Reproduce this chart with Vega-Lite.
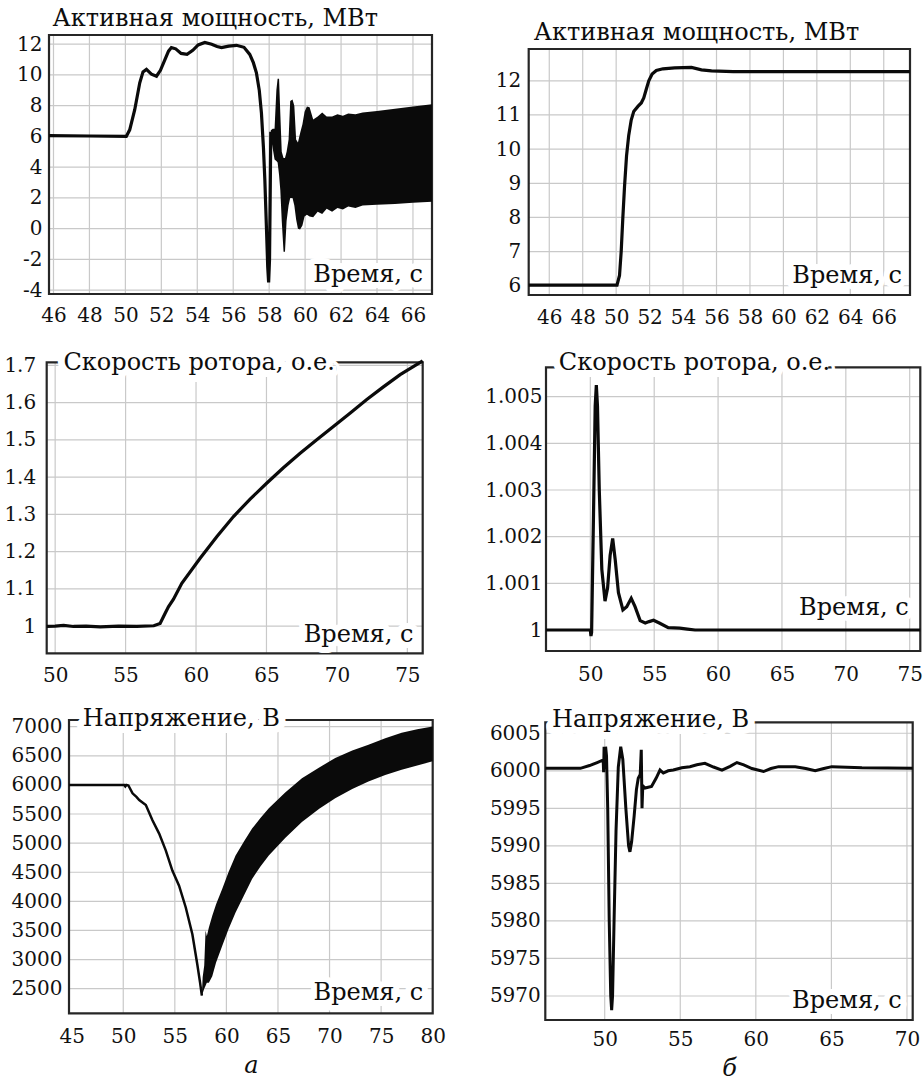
{
  "$schema": "https://vega.github.io/schema/vega-lite/v6.json",
  "width": 924,
  "height": 1081,
  "autosize": {"type": "none"},
  "padding": 0,
  "background": "white",
  "config": {
    "font": "DejaVu Serif",
    "view": {"stroke": null},
    "axis": {
      "grid": false, "ticks": false, "domain": false,
      "labelFont": "DejaVu Serif", "labelFontSize": 20, "labelColor": "#111",
      "labelOverlap": false, "labelFlush": false, "labelBound": false
    },
    "rule": {"color": "#c9c9c9", "strokeWidth": 1.2},
    "text": {"font": "DejaVu Serif", "fontSize": 24, "color": "#0d0d0d"}
  },
  "resolve": {
    "scale": {"x": "independent", "y": "independent"},
    "axis": {"x": "independent", "y": "independent"}
  },
  "datasets": {
    "a1_line": [
      {"t": 45.75, "v": 6.05}, {"t": 48, "v": 6.03}, {"t": 50.05, "v": 6.0}, {"t": 50.24, "v": 6.43},
      {"t": 50.52, "v": 7.74}, {"t": 50.8, "v": 9.49}, {"t": 50.98, "v": 10.2}, {"t": 51.17, "v": 10.36},
      {"t": 51.45, "v": 10.05}, {"t": 51.73, "v": 9.92}, {"t": 51.95, "v": 10.3}, {"t": 52.2, "v": 11.0},
      {"t": 52.4, "v": 11.55}, {"t": 52.56, "v": 11.78}, {"t": 52.8, "v": 11.7}, {"t": 53.1, "v": 11.4},
      {"t": 53.43, "v": 11.34}, {"t": 53.75, "v": 11.6}, {"t": 54.05, "v": 11.95}, {"t": 54.42, "v": 12.11},
      {"t": 54.8, "v": 12.0}, {"t": 55.1, "v": 11.85}, {"t": 55.35, "v": 11.78}, {"t": 55.75, "v": 11.88},
      {"t": 56.18, "v": 11.93}, {"t": 56.6, "v": 11.8}, {"t": 56.92, "v": 11.34}, {"t": 57.12, "v": 10.8},
      {"t": 57.29, "v": 10.14}, {"t": 57.45, "v": 9.0}, {"t": 57.57, "v": 7.52}, {"t": 57.68, "v": 5.3},
      {"t": 57.76, "v": 3.15}, {"t": 57.85, "v": 0.0}, {"t": 57.92, "v": -2.5}, {"t": 57.97, "v": -3.5},
      {"t": 58.02, "v": -2.0}, {"t": 58.06, "v": 2.5}, {"t": 58.09, "v": 6.3}
    ],
    "a1_band": [
      {"t": 58.09, "lo": 6.0, "hi": 6.4}, {"t": 58.2, "lo": 5.2, "hi": 6.5}, {"t": 58.3, "lo": 4.5, "hi": 6.5},
      {"t": 58.4, "lo": 4.4, "hi": 9.0}, {"t": 58.47, "lo": 4.3, "hi": 9.75}, {"t": 58.55, "lo": 3.5, "hi": 9.75},
      {"t": 58.62, "lo": 2.5, "hi": 7.5}, {"t": 58.7, "lo": 0.5, "hi": 5.0}, {"t": 58.8, "lo": -1.5, "hi": 4.6},
      {"t": 58.88, "lo": -1.5, "hi": 4.6}, {"t": 58.97, "lo": 0.5, "hi": 5.0}, {"t": 59.08, "lo": 1.5, "hi": 5.8},
      {"t": 59.17, "lo": 2.0, "hi": 8.3}, {"t": 59.3, "lo": 2.0, "hi": 8.4}, {"t": 59.4, "lo": 1.5, "hi": 8.0},
      {"t": 59.5, "lo": 0.6, "hi": 5.8}, {"t": 59.6, "lo": 0.0, "hi": 5.6}, {"t": 59.72, "lo": -0.05, "hi": 6.2},
      {"t": 59.85, "lo": 0.2, "hi": 6.8}, {"t": 59.97, "lo": 0.8, "hi": 7.6}, {"t": 60.1, "lo": 0.9, "hi": 7.95},
      {"t": 60.25, "lo": 0.8, "hi": 7.9}, {"t": 60.45, "lo": 0.75, "hi": 7.1}, {"t": 60.7, "lo": 1.1, "hi": 7.3},
      {"t": 60.95, "lo": 0.95, "hi": 7.55}, {"t": 61.2, "lo": 1.3, "hi": 7.3}, {"t": 61.5, "lo": 1.1, "hi": 7.3},
      {"t": 61.8, "lo": 1.35, "hi": 7.45}, {"t": 62.1, "lo": 1.25, "hi": 7.35}, {"t": 62.4, "lo": 1.45, "hi": 7.5},
      {"t": 62.8, "lo": 1.35, "hi": 7.45}, {"t": 63.2, "lo": 1.5, "hi": 7.55}, {"t": 64.0, "lo": 1.55, "hi": 7.65},
      {"t": 65.0, "lo": 1.6, "hi": 7.8}, {"t": 66.0, "lo": 1.68, "hi": 7.95}, {"t": 67.06, "lo": 1.75, "hi": 8.1}
    ],
    "b1": [
      {"t": 44.77, "v": 6.02}, {"t": 48, "v": 6.02}, {"t": 50.05, "v": 6.02}, {"t": 50.2, "v": 6.3},
      {"t": 50.3, "v": 7.0}, {"t": 50.4, "v": 8.0}, {"t": 50.5, "v": 8.9}, {"t": 50.62, "v": 9.8},
      {"t": 50.75, "v": 10.4}, {"t": 50.9, "v": 10.85}, {"t": 51.05, "v": 11.1}, {"t": 51.3, "v": 11.25},
      {"t": 51.5, "v": 11.35}, {"t": 51.65, "v": 11.5}, {"t": 51.8, "v": 11.75}, {"t": 51.95, "v": 12.0},
      {"t": 52.15, "v": 12.2}, {"t": 52.4, "v": 12.3}, {"t": 52.8, "v": 12.35}, {"t": 53.5, "v": 12.38},
      {"t": 54.5, "v": 12.39}, {"t": 55.1, "v": 12.32}, {"t": 55.7, "v": 12.29}, {"t": 57, "v": 12.27},
      {"t": 67.57, "v": 12.27}
    ],
    "a2": [
      {"t": 49.4, "v": 0.999}, {"t": 50, "v": 1.0}, {"t": 50.6, "v": 1.002}, {"t": 51.3, "v": 0.999},
      {"t": 52.2, "v": 1.0}, {"t": 53.2, "v": 0.998}, {"t": 54.5, "v": 1.0}, {"t": 55.8, "v": 0.999},
      {"t": 57.0, "v": 1.001}, {"t": 57.45, "v": 1.007}, {"t": 57.8, "v": 1.034}, {"t": 58.04, "v": 1.052},
      {"t": 58.4, "v": 1.072}, {"t": 58.99, "v": 1.115}, {"t": 60.29, "v": 1.182}, {"t": 61.47, "v": 1.24},
      {"t": 62.66, "v": 1.294}, {"t": 63.84, "v": 1.341}, {"t": 65.03, "v": 1.384}, {"t": 66.2, "v": 1.425},
      {"t": 67.39, "v": 1.464}, {"t": 68.57, "v": 1.5}, {"t": 69.75, "v": 1.536}, {"t": 70.95, "v": 1.572},
      {"t": 72.12, "v": 1.608}, {"t": 73.3, "v": 1.642}, {"t": 74.49, "v": 1.675}, {"t": 76.09, "v": 1.712}
    ],
    "b2": [
      {"t": 46.53, "v": 1.0}, {"t": 50.0, "v": 1.0}, {"t": 50.05, "v": 0.99987}, {"t": 50.1, "v": 0.99995},
      {"t": 50.25, "v": 1.0025}, {"t": 50.38, "v": 1.0048}, {"t": 50.47, "v": 1.00525}, {"t": 50.56, "v": 1.0048},
      {"t": 50.7, "v": 1.003}, {"t": 50.9, "v": 1.0013}, {"t": 51.15, "v": 1.00062}, {"t": 51.35, "v": 1.0009},
      {"t": 51.55, "v": 1.0016}, {"t": 51.75, "v": 1.00196}, {"t": 51.95, "v": 1.0015}, {"t": 52.2, "v": 1.0008},
      {"t": 52.55, "v": 1.00043}, {"t": 52.85, "v": 1.0005}, {"t": 53.2, "v": 1.00068}, {"t": 53.5, "v": 1.0005},
      {"t": 53.9, "v": 1.0002}, {"t": 54.3, "v": 1.00015}, {"t": 54.6, "v": 1.00018}, {"t": 54.95, "v": 1.00021},
      {"t": 55.4, "v": 1.00015}, {"t": 56.1, "v": 1.00005}, {"t": 57.0, "v": 1.00004}, {"t": 57.6, "v": 1.00002},
      {"t": 58.2, "v": 1.0}, {"t": 75.83, "v": 1.0}
    ],
    "a3_line": [
      {"t": 44.74, "v": 6000}, {"t": 50.1, "v": 6000}, {"t": 50.2, "v": 5975}, {"t": 50.3, "v": 6000},
      {"t": 50.5, "v": 5990}, {"t": 50.9, "v": 5856}, {"t": 51.3, "v": 5790}, {"t": 51.55, "v": 5740},
      {"t": 52.19, "v": 5654}, {"t": 52.83, "v": 5394}, {"t": 53.48, "v": 5164}, {"t": 54.12, "v": 4875},
      {"t": 54.76, "v": 4529}, {"t": 55.41, "v": 4270}, {"t": 56.06, "v": 3895}, {"t": 56.7, "v": 3434},
      {"t": 57.18, "v": 2915}, {"t": 57.45, "v": 2600}, {"t": 57.62, "v": 2380}
    ],
    "a3_band": [
      {"t": 57.62, "lo": 2380, "hi": 2400}, {"t": 57.7, "lo": 2420, "hi": 2700}, {"t": 57.85, "lo": 2500, "hi": 2900},
      {"t": 57.98, "lo": 2550, "hi": 3500}, {"t": 58.1, "lo": 2600, "hi": 3400}, {"t": 58.3, "lo": 2600, "hi": 3550},
      {"t": 58.63, "lo": 2713, "hi": 3751}, {"t": 59.0, "lo": 2950, "hi": 3950}, {"t": 59.59, "lo": 3232, "hi": 4213},
      {"t": 60.2, "lo": 3520, "hi": 4500}, {"t": 60.89, "lo": 3808, "hi": 4789}, {"t": 61.7, "lo": 4100, "hi": 5030},
      {"t": 62.49, "lo": 4386, "hi": 5251}, {"t": 63.3, "lo": 4600, "hi": 5430}, {"t": 64.11, "lo": 4789, "hi": 5597},
      {"t": 65.7, "lo": 5090, "hi": 5870}, {"t": 67.32, "lo": 5365, "hi": 6116}, {"t": 69.0, "lo": 5590, "hi": 6300},
      {"t": 70.55, "lo": 5770, "hi": 6462}, {"t": 72.2, "lo": 5930, "hi": 6590}, {"t": 73.77, "lo": 6057, "hi": 6692},
      {"t": 75.4, "lo": 6170, "hi": 6800}, {"t": 76.99, "lo": 6260, "hi": 6894}, {"t": 78.5, "lo": 6335, "hi": 6955},
      {"t": 80.0, "lo": 6405, "hi": 7005}
    ],
    "b3": [
      {"t": 46.07, "v": 6000.33}, {"t": 48.39, "v": 6000.33}, {"t": 49.0, "v": 6000.7}, {"t": 49.5, "v": 6001.1},
      {"t": 49.9, "v": 6001.44}, {"t": 49.93, "v": 5999.8}, {"t": 49.96, "v": 6003.2}, {"t": 49.99, "v": 6000.2},
      {"t": 50.06, "v": 6003.2}, {"t": 50.12, "v": 6002.0}, {"t": 50.2, "v": 5995}, {"t": 50.3, "v": 5980},
      {"t": 50.4, "v": 5970}, {"t": 50.46, "v": 5968.1}, {"t": 50.52, "v": 5970}, {"t": 50.62, "v": 5980},
      {"t": 50.75, "v": 5992}, {"t": 50.9, "v": 6000.5}, {"t": 51.06, "v": 6003.2}, {"t": 51.2, "v": 6001.5},
      {"t": 51.4, "v": 5995}, {"t": 51.58, "v": 5990}, {"t": 51.67, "v": 5989.2}, {"t": 51.78, "v": 5990.5},
      {"t": 51.95, "v": 5994}, {"t": 52.1, "v": 5997.5}, {"t": 52.22, "v": 5999.0}, {"t": 52.35, "v": 5999.5},
      {"t": 52.42, "v": 6002.8}, {"t": 52.47, "v": 5995.0}, {"t": 52.52, "v": 5998.0}, {"t": 52.67, "v": 5997.7},
      {"t": 53.1, "v": 5997.9}, {"t": 53.4, "v": 5999.0}, {"t": 53.66, "v": 6000.1}, {"t": 53.88, "v": 5999.7},
      {"t": 54.2, "v": 6000.0}, {"t": 54.54, "v": 6000.1}, {"t": 55.1, "v": 6000.4}, {"t": 55.64, "v": 6000.55},
      {"t": 56.1, "v": 6000.8}, {"t": 56.63, "v": 6001.0}, {"t": 57.2, "v": 6000.5}, {"t": 57.76, "v": 6000.1},
      {"t": 58.3, "v": 6000.6}, {"t": 58.75, "v": 6001.1}, {"t": 59.2, "v": 6000.8}, {"t": 59.74, "v": 6000.3},
      {"t": 60.51, "v": 5999.9}, {"t": 61.0, "v": 6000.3}, {"t": 61.51, "v": 6000.55}, {"t": 62.61, "v": 6000.55},
      {"t": 63.3, "v": 6000.3}, {"t": 63.93, "v": 6000.0}, {"t": 64.5, "v": 6000.3}, {"t": 65.03, "v": 6000.55},
      {"t": 67.02, "v": 6000.4}, {"t": 70.38, "v": 6000.33}
    ]
  },
  "layer": [
    {
      "layer": [
        {"data": {"values": [{"g": 46}, {"g": 48}, {"g": 50}, {"g": 52}, {"g": 54}, {"g": 56}, {"g": 58}, {"g": 60}, {"g": 62}, {"g": 64}, {"g": 66}]},
         "mark": "rule",
         "encoding": {"x": {"field": "g", "type": "quantitative"}, "y": {"datum": -4.25, "type": "quantitative"}, "y2": {"datum": 12.6}}},
        {"data": {"values": [{"h": -4}, {"h": -2}, {"h": 0}, {"h": 2}, {"h": 4}, {"h": 6}, {"h": 8}, {"h": 10}, {"h": 12}]},
         "mark": "rule",
         "encoding": {"y": {"field": "h", "type": "quantitative"}, "x": {"datum": 45.75, "type": "quantitative"}, "x2": {"datum": 67.06}}},
        {"data": {"values": [{}]},
         "mark": {"type": "rect", "filled": false, "color": "#262626", "strokeWidth": 2.2},
         "encoding": {"x": {"datum": 45.75, "type": "quantitative"}, "x2": {"datum": 67.06}, "y": {"datum": -4.25, "type": "quantitative"}, "y2": {"datum": 12.6}}},
        {
          "data": {"name": "a1_line"},
          "mark": {"type": "line", "color": "#0a0a0a", "strokeWidth": 3.2, "clip": true},
          "encoding": {
            "x": {"field": "t", "type": "quantitative", "scale": {"domain": [45.75, 67.06], "range": [49, 432], "nice": false, "zero": false},
                  "axis": {"title": null, "orient": "bottom", "offset": -787, "values": [46, 48, 50, 52, 54, 56, 58, 60, 62, 64, 66], "labelPadding": 11.5}},
            "y": {"field": "v", "type": "quantitative", "scale": {"domain": [-4.25, 12.6], "range": [294, 35], "nice": false, "zero": false},
                  "axis": {"title": null, "orient": "left", "offset": -49, "values": [-4, -2, 0, 2, 4, 6, 8, 10, 12], "labelPadding": 7, "labelExpr": "'' + datum.value"}}
          }
        },
        {
          "data": {"name": "a1_band"},
          "mark": {"type": "area", "color": "#0a0a0a", "clip": true},
          "encoding": {"x": {"field": "t", "type": "quantitative"}, "y": {"field": "lo", "type": "quantitative"}, "y2": {"field": "hi"}}
        },
        {"data": {"values": [{}]},
         "mark": {"type": "text", "text": "Активная мощность, МВт", "align": "left", "baseline": "alphabetic"},
         "encoding": {"x": {"datum": 45.95, "type": "quantitative"}, "y": {"datum": 13.18, "type": "quantitative"}}},
        {"data": {"values": [{}]},
         "mark": {"type": "text", "text": "Время, с", "align": "right", "baseline": "alphabetic", "stroke": "white", "strokeWidth": 12, "fill": "white", "strokeJoin": "round"},
         "encoding": {"x": {"datum": 66.56, "type": "quantitative"}, "y": {"datum": -3.5, "type": "quantitative"}}},
        {"data": {"values": [{}]},
         "mark": {"type": "text", "text": "Время, с", "align": "right", "baseline": "alphabetic"},
         "encoding": {"x": {"datum": 66.56, "type": "quantitative"}, "y": {"datum": -3.5, "type": "quantitative"}}}
      ]
    },
    {
      "layer": [
        {"data": {"values": [{"g": 46}, {"g": 48}, {"g": 50}, {"g": 52}, {"g": 54}, {"g": 56}, {"g": 58}, {"g": 60}, {"g": 62}, {"g": 64}, {"g": 66}]},
         "mark": "rule",
         "encoding": {"x": {"field": "g", "type": "quantitative"}, "y": {"datum": 5.73, "type": "quantitative"}, "y2": {"datum": 12.93}}},
        {"data": {"values": [{"h": 6}, {"h": 7}, {"h": 8}, {"h": 9}, {"h": 10}, {"h": 11}, {"h": 12}]},
         "mark": "rule",
         "encoding": {"y": {"field": "h", "type": "quantitative"}, "x": {"datum": 44.77, "type": "quantitative"}, "x2": {"datum": 67.57}}},
        {"data": {"values": [{}]},
         "mark": {"type": "rect", "filled": false, "color": "#262626", "strokeWidth": 2.2},
         "encoding": {"x": {"datum": 44.77, "type": "quantitative"}, "x2": {"datum": 67.57}, "y": {"datum": 5.73, "type": "quantitative"}, "y2": {"datum": 12.93}}},
        {
          "data": {"name": "b1"},
          "mark": {"type": "line", "color": "#0a0a0a", "strokeWidth": 3.2, "clip": true},
          "encoding": {
            "x": {"field": "t", "type": "quantitative", "scale": {"domain": [44.77, 67.57], "range": [528.7, 910], "nice": false, "zero": false},
                  "axis": {"title": null, "orient": "bottom", "offset": -786, "values": [46, 48, 50, 52, 54, 56, 58, 60, 62, 64, 66], "labelPadding": 12}},
            "y": {"field": "v", "type": "quantitative", "scale": {"domain": [5.73, 12.93], "range": [295, 49], "nice": false, "zero": false},
                  "axis": {"title": null, "orient": "left", "offset": -528.7, "values": [6, 7, 8, 9, 10, 11, 12], "labelPadding": 8, "labelExpr": "'' + datum.value"}}
          }
        },
        {"data": {"values": [{}]},
         "mark": {"type": "text", "text": "Активная мощность, МВт", "align": "left", "baseline": "alphabetic"},
         "encoding": {"x": {"datum": 45.07, "type": "quantitative"}, "y": {"datum": 13.18, "type": "quantitative"}}},
        {"data": {"values": [{}]},
         "mark": {"type": "text", "text": "Время, с", "align": "right", "baseline": "alphabetic", "stroke": "white", "strokeWidth": 12, "fill": "white", "strokeJoin": "round"},
         "encoding": {"x": {"datum": 67.09, "type": "quantitative"}, "y": {"datum": 6.07, "type": "quantitative"}}},
        {"data": {"values": [{}]},
         "mark": {"type": "text", "text": "Время, с", "align": "right", "baseline": "alphabetic"},
         "encoding": {"x": {"datum": 67.09, "type": "quantitative"}, "y": {"datum": 6.07, "type": "quantitative"}}}
      ]
    },
    {
      "layer": [
        {"data": {"values": [{"g": 50}, {"g": 55}, {"g": 60}, {"g": 65}, {"g": 70}, {"g": 75}]},
         "mark": "rule",
         "encoding": {"x": {"field": "g", "type": "quantitative"}, "y": {"datum": 0.927, "type": "quantitative"}, "y2": {"datum": 1.708}}},
        {"data": {"values": [{"h": 1}, {"h": 1.1}, {"h": 1.2}, {"h": 1.3}, {"h": 1.4}, {"h": 1.5}, {"h": 1.6}, {"h": 1.7}]},
         "mark": "rule",
         "encoding": {"y": {"field": "h", "type": "quantitative"}, "x": {"datum": 49.4, "type": "quantitative"}, "x2": {"datum": 76.09}}},
        {"data": {"values": [{}]},
         "mark": {"type": "rect", "filled": false, "color": "#262626", "strokeWidth": 2.2},
         "encoding": {"x": {"datum": 49.4, "type": "quantitative"}, "x2": {"datum": 76.09}, "y": {"datum": 0.927, "type": "quantitative"}, "y2": {"datum": 1.708}}},
        {
          "data": {"name": "a2"},
          "mark": {"type": "line", "color": "#0a0a0a", "strokeWidth": 3.2, "clip": true},
          "encoding": {
            "x": {"field": "t", "type": "quantitative", "scale": {"domain": [49.4, 76.09], "range": [46.7, 422.7], "nice": false, "zero": false},
                  "axis": {"title": null, "orient": "bottom", "offset": -427.7, "values": [50, 55, 60, 65, 70, 75], "labelPadding": 12}},
            "y": {"field": "v", "type": "quantitative", "scale": {"domain": [0.927, 1.708], "range": [653.3, 362.3], "nice": false, "zero": false},
                  "axis": {"title": null, "orient": "left", "offset": -46.7, "values": [1, 1.1, 1.2, 1.3, 1.4, 1.5, 1.6, 1.7], "labelPadding": 11, "labelExpr": "'' + datum.value"}}
          }
        },
        {"data": {"values": [{}]},
         "mark": {"type": "text", "text": "Скорость ротора, о.е.", "align": "left", "baseline": "alphabetic", "stroke": "white", "strokeWidth": 14, "fill": "white", "strokeJoin": "round"},
         "encoding": {"x": {"datum": 50.59, "type": "quantitative"}, "y": {"datum": 1.688, "type": "quantitative"}}},
        {"data": {"values": [{}]},
         "mark": {"type": "text", "text": "Скорость ротора, о.е.", "align": "left", "baseline": "alphabetic"},
         "encoding": {"x": {"datum": 50.59, "type": "quantitative"}, "y": {"datum": 1.688, "type": "quantitative"}}},
        {"data": {"values": [{}]},
         "mark": {"type": "text", "text": "Время, с", "align": "right", "baseline": "alphabetic", "stroke": "white", "strokeWidth": 12, "fill": "white", "strokeJoin": "round"},
         "encoding": {"x": {"datum": 75.43, "type": "quantitative"}, "y": {"datum": 0.958, "type": "quantitative"}}},
        {"data": {"values": [{}]},
         "mark": {"type": "text", "text": "Время, с", "align": "right", "baseline": "alphabetic"},
         "encoding": {"x": {"datum": 75.43, "type": "quantitative"}, "y": {"datum": 0.958, "type": "quantitative"}}}
      ]
    },
    {
      "layer": [
        {"data": {"values": [{"g": 50}, {"g": 55}, {"g": 60}, {"g": 65}, {"g": 70}, {"g": 75}]},
         "mark": "rule",
         "encoding": {"x": {"field": "g", "type": "quantitative"}, "y": {"datum": 0.99955, "type": "quantitative"}, "y2": {"datum": 1.00563}}},
        {"data": {"values": [{"h": 1}, {"h": 1.001}, {"h": 1.002}, {"h": 1.003}, {"h": 1.004}, {"h": 1.005}]},
         "mark": "rule",
         "encoding": {"y": {"field": "h", "type": "quantitative"}, "x": {"datum": 46.53, "type": "quantitative"}, "x2": {"datum": 75.83}}},
        {"data": {"values": [{}]},
         "mark": {"type": "rect", "filled": false, "color": "#262626", "strokeWidth": 2.2},
         "encoding": {"x": {"datum": 46.53, "type": "quantitative"}, "x2": {"datum": 75.83}, "y": {"datum": 0.99955, "type": "quantitative"}, "y2": {"datum": 1.00563}}},
        {
          "data": {"name": "b2"},
          "mark": {"type": "line", "color": "#0a0a0a", "strokeWidth": 3.2, "clip": true},
          "encoding": {
            "x": {"field": "t", "type": "quantitative", "scale": {"domain": [46.53, 75.83], "range": [546, 920.3], "nice": false, "zero": false},
                  "axis": {"title": null, "orient": "bottom", "offset": -430, "values": [50, 55, 60, 65, 70, 75], "labelPadding": 13}},
            "y": {"field": "v", "type": "quantitative", "scale": {"domain": [0.99955, 1.00563], "range": [651, 367.3], "nice": false, "zero": false},
                  "axis": {"title": null, "orient": "left", "offset": -546, "values": [1, 1.001, 1.002, 1.003, 1.004, 1.005], "labelPadding": 4, "labelExpr": "'' + datum.value"}}
          }
        },
        {"data": {"values": [{}]},
         "mark": {"type": "text", "text": "Скорость ротора, о.е.", "align": "left", "baseline": "alphabetic", "stroke": "white", "strokeWidth": 14, "fill": "white", "strokeJoin": "round"},
         "encoding": {"x": {"datum": 47.53, "type": "quantitative"}, "y": {"datum": 1.00557, "type": "quantitative"}}},
        {"data": {"values": [{}]},
         "mark": {"type": "text", "text": "Скорость ротора, о.е.", "align": "left", "baseline": "alphabetic"},
         "encoding": {"x": {"datum": 47.53, "type": "quantitative"}, "y": {"datum": 1.00557, "type": "quantitative"}}},
        {"data": {"values": [{}]},
         "mark": {"type": "text", "text": "Время, с", "align": "right", "baseline": "alphabetic", "stroke": "white", "strokeWidth": 12, "fill": "white", "strokeJoin": "round"},
         "encoding": {"x": {"datum": 74.93, "type": "quantitative"}, "y": {"datum": 1.00032, "type": "quantitative"}}},
        {"data": {"values": [{}]},
         "mark": {"type": "text", "text": "Время, с", "align": "right", "baseline": "alphabetic"},
         "encoding": {"x": {"datum": 74.93, "type": "quantitative"}, "y": {"datum": 1.00032, "type": "quantitative"}}}
      ]
    },
    {
      "layer": [
        {"data": {"values": [{"g": 50}, {"g": 55}, {"g": 60}, {"g": 65}, {"g": 70}, {"g": 75}]},
         "mark": "rule",
         "encoding": {"x": {"field": "g", "type": "quantitative"}, "y": {"datum": 2077, "type": "quantitative"}, "y2": {"datum": 7115}}},
        {"data": {"values": [{"h": 2500}, {"h": 3000}, {"h": 3500}, {"h": 4000}, {"h": 4500}, {"h": 5000}, {"h": 5500}, {"h": 6000}, {"h": 6500}, {"h": 7000}]},
         "mark": "rule",
         "encoding": {"y": {"field": "h", "type": "quantitative"}, "x": {"datum": 44.74, "type": "quantitative"}, "x2": {"datum": 80.0}}},
        {"data": {"values": [{}]},
         "mark": {"type": "rect", "filled": false, "color": "#262626", "strokeWidth": 2.2},
         "encoding": {"x": {"datum": 44.74, "type": "quantitative"}, "x2": {"datum": 80.0}, "y": {"datum": 2077, "type": "quantitative"}, "y2": {"datum": 7115}}},
        {
          "data": {"name": "a3_line"},
          "mark": {"type": "line", "color": "#0a0a0a", "strokeWidth": 2.5, "clip": true},
          "encoding": {
            "x": {"field": "t", "type": "quantitative", "scale": {"domain": [44.74, 80.0], "range": [69, 432.7], "nice": false, "zero": false},
                  "axis": {"title": "а", "titleFontStyle": "italic", "titleFontWeight": "normal", "titleFontSize": 24, "titleFont": "DejaVu Serif", "titleColor": "#0d0d0d", "titlePadding": 7,
                           "orient": "bottom", "offset": -67.7, "values": [45, 50, 55, 60, 65, 70, 75, 80], "labelPadding": 13.5}},
            "y": {"field": "v", "type": "quantitative", "scale": {"domain": [2077, 7115], "range": [1013.3, 720], "nice": false, "zero": false},
                  "axis": {"title": null, "orient": "left", "offset": -69, "values": [2500, 3000, 3500, 4000, 4500, 5000, 5500, 6000, 6500, 7000], "labelPadding": 7, "labelExpr": "'' + datum.value"}}
          }
        },
        {
          "data": {"name": "a3_band"},
          "mark": {"type": "area", "color": "#0a0a0a", "clip": true},
          "encoding": {"x": {"field": "t", "type": "quantitative"}, "y": {"field": "lo", "type": "quantitative"}, "y2": {"field": "hi"}}
        },
        {"data": {"values": [{}]},
         "mark": {"type": "text", "text": "Напряжение, В", "align": "left", "baseline": "alphabetic", "stroke": "white", "strokeWidth": 14, "fill": "white", "strokeJoin": "round"},
         "encoding": {"x": {"datum": 46.07, "type": "quantitative"}, "y": {"datum": 7014, "type": "quantitative"}}},
        {"data": {"values": [{}]},
         "mark": {"type": "text", "text": "Напряжение, В", "align": "left", "baseline": "alphabetic"},
         "encoding": {"x": {"datum": 46.07, "type": "quantitative"}, "y": {"datum": 7014, "type": "quantitative"}}},
        {"data": {"values": [{}]},
         "mark": {"type": "text", "text": "Время, с", "align": "right", "baseline": "alphabetic", "stroke": "white", "strokeWidth": 12, "fill": "white", "strokeJoin": "round"},
         "encoding": {"x": {"datum": 79.08, "type": "quantitative"}, "y": {"datum": 2306, "type": "quantitative"}}},
        {"data": {"values": [{}]},
         "mark": {"type": "text", "text": "Время, с", "align": "right", "baseline": "alphabetic"},
         "encoding": {"x": {"datum": 79.08, "type": "quantitative"}, "y": {"datum": 2306, "type": "quantitative"}}}
      ]
    },
    {
      "layer": [
        {"data": {"values": [{"g": 50}, {"g": 55}, {"g": 60}, {"g": 65}, {"g": 70}]},
         "mark": "rule",
         "encoding": {"x": {"field": "g", "type": "quantitative"}, "y": {"datum": 5966.8, "type": "quantitative"}, "y2": {"datum": 6006.46}}},
        {"data": {"values": [{"h": 5970}, {"h": 5975}, {"h": 5980}, {"h": 5985}, {"h": 5990}, {"h": 5995}, {"h": 6000}, {"h": 6005}]},
         "mark": "rule",
         "encoding": {"y": {"field": "h", "type": "quantitative"}, "x": {"datum": 46.07, "type": "quantitative"}, "x2": {"datum": 70.38}}},
        {"data": {"values": [{}]},
         "mark": {"type": "rect", "filled": false, "color": "#262626", "strokeWidth": 2.2},
         "encoding": {"x": {"datum": 46.07, "type": "quantitative"}, "x2": {"datum": 70.38}, "y": {"datum": 5966.8, "type": "quantitative"}, "y2": {"datum": 6006.46}}},
        {
          "data": {"name": "b3"},
          "mark": {"type": "line", "color": "#0a0a0a", "strokeWidth": 3.0, "clip": true},
          "encoding": {
            "x": {"field": "t", "type": "quantitative", "scale": {"domain": [46.07, 70.38], "range": [545.3, 912.7], "nice": false, "zero": false},
                  "axis": {"title": "б", "titleFontStyle": "italic", "titleFontWeight": "normal", "titleFontSize": 24, "titleFont": "DejaVu Serif", "titleColor": "#0d0d0d", "titlePadding": 7,
                           "orient": "bottom", "offset": -61, "values": [50, 55, 60, 65, 70], "labelPadding": 9}},
            "y": {"field": "v", "type": "quantitative", "scale": {"domain": [5966.8, 6006.46], "range": [1020, 722.3], "nice": false, "zero": false},
                  "axis": {"title": null, "orient": "left", "offset": -545.3, "values": [5970, 5975, 5980, 5985, 5990, 5995, 6000, 6005], "labelPadding": 5, "labelExpr": "'' + datum.value"}}
          }
        },
        {"data": {"values": [{}]},
         "mark": {"type": "text", "text": "Напряжение, В", "align": "left", "baseline": "alphabetic", "stroke": "white", "strokeWidth": 14, "fill": "white", "strokeJoin": "round"},
         "encoding": {"x": {"datum": 46.51, "type": "quantitative"}, "y": {"datum": 6005.88, "type": "quantitative"}}},
        {"data": {"values": [{}]},
         "mark": {"type": "text", "text": "Напряжение, В", "align": "left", "baseline": "alphabetic"},
         "encoding": {"x": {"datum": 46.51, "type": "quantitative"}, "y": {"datum": 6005.88, "type": "quantitative"}}},
        {"data": {"values": [{}]},
         "mark": {"type": "text", "text": "Время, с", "align": "right", "baseline": "alphabetic", "stroke": "white", "strokeWidth": 12, "fill": "white", "strokeJoin": "round"},
         "encoding": {"x": {"datum": 69.66, "type": "quantitative"}, "y": {"datum": 5968.35, "type": "quantitative"}}},
        {"data": {"values": [{}]},
         "mark": {"type": "text", "text": "Время, с", "align": "right", "baseline": "alphabetic"},
         "encoding": {"x": {"datum": 69.66, "type": "quantitative"}, "y": {"datum": 5968.35, "type": "quantitative"}}}
      ]
    }
  ]
}
